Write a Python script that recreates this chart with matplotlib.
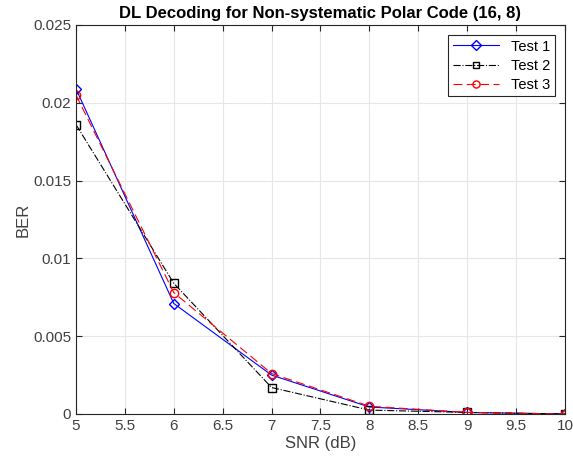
import matplotlib
matplotlib.use('Agg')
import matplotlib.pyplot as plt
import numpy as np

plt.rcParams['font.family'] = ['Liberation Sans', 'DejaVu Sans']

snr = [5, 6, 7, 8, 9, 10]
test1 = [0.0209, 0.0071, 0.0025, 0.00045, 0.0001, 0.0]
test2 = [0.0186, 0.0084, 0.0017, 0.00025, 0.0001, 0.0]
test3 = [0.0205, 0.0078, 0.0026, 0.0005, 0.0001, 0.0]

fig = plt.figure(figsize=(5.73, 4.68), dpi=100)
ax = fig.add_axes([0.1326, 0.1154, 0.8534, 0.8312])

ax.plot(snr, test1, color='#0000ff', ls='-', lw=0.8, marker='D', ms=5.5,
        mfc='none', mec='#0000ff', label='Test 1')
ax.plot(snr, test2, color='black', ls='-.', lw=0.8, marker='s', ms=5.5,
        mfc='none', mec='black', label='Test 2')
ax.plot(snr, test3, color='#ff0000', ls=(0, (8, 4)), lw=0.8, marker='o', ms=6,
        mfc='none', mec='#ff0000', label='Test 3')

ax.set_xlim(5, 10)
ax.set_ylim(0, 0.025)
ax.set_xticks(np.arange(5, 10.01, 0.5))
ax.set_xticklabels(['5', '5.5', '6', '6.5', '7', '7.5', '8', '8.5', '9', '9.5', '10'])
ax.set_yticks(np.arange(0, 0.0251, 0.005))
ax.set_yticklabels(['0', '0.005', '0.01', '0.015', '0.02', '0.025'])
ax.grid(True, color='#e6e6e6', lw=0.8)
ax.set_axisbelow(True)
for s in ax.spines.values():
    s.set_color('#262626')
    s.set_linewidth(0.8)
ax.tick_params(direction='in', length=4, labelsize=11, colors='#262626',
               labelcolor='#404040', top=True, right=True)
ax.set_xlabel('SNR (dB)', fontsize=12, color='#404040', labelpad=2)
ax.set_ylabel('BER', fontsize=12, color='#404040', labelpad=2)
ax.set_title('DL Decoding for Non-systematic Polar Code (16, 8)', fontsize=12,
             fontweight='bold', pad=5)
leg = ax.legend(loc='upper right', fontsize=10.5, fancybox=False, framealpha=1,
                edgecolor='#262626', handlelength=3.2, borderaxespad=0.7,
                markerscale=0.85, labelspacing=0.35, borderpad=0.3)
leg.get_frame().set_linewidth(0.8)

plt.savefig('out.png', dpi=100)
